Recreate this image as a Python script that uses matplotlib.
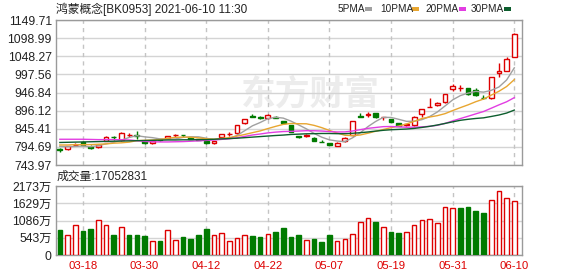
import matplotlib
matplotlib.use('Agg')
import matplotlib.pyplot as plt
import numpy as np
import pandas as pd
from matplotlib.patches import Rectangle

plt.rcParams['font.family'] = ['Liberation Sans', 'Noto Sans CJK SC', 'DejaVu Sans']

# ---------------- data ----------------
title = '鸿蒙概念[BK0953] 2021-06-10 11:30'
dates = ['03-15', '03-16', '03-17', '03-18', '03-19', '03-22', '03-23', '03-24', '03-25', '03-26',
         '03-29', '03-30', '03-31', '04-01', '04-02', '04-06', '04-07', '04-08', '04-09', '04-12',
         '04-13', '04-14', '04-15', '04-16', '04-19', '04-20', '04-21', '04-22', '04-23', '04-26',
         '04-27', '04-28', '04-29', '04-30', '05-06', '05-07', '05-10', '05-11', '05-12', '05-13',
         '05-14', '05-17', '05-18', '05-19', '05-20', '05-21', '05-24', '05-25', '05-26', '05-27',
         '05-28', '05-31', '06-01', '06-02', '06-03', '06-04', '06-07', '06-08', '06-09', '06-10']
opens = [789, 789, 800, 807, 793, 793, 812, 822, 813, 828,
         829, 810, 805, 816, 819, 828, 828, 822, 816, 810,
         805, 822, 830, 834, 862, 880, 877, 875, 877, 867,
         856, 824, 825, 819, 809, 805, 798, 811, 827, 880,
         884, 889, 877, 873, 861, 855, 857, 887, 906, 911,
         920, 957, 959, 959, 954, 932, 931, 1001, 1008, 1047]
highs = [791, 797, 805, 810, 800, 803, 825, 826, 836, 833,
         840, 812, 812, 818, 826, 829.5, 828.5, 823, 818, 811,
         812, 831, 835, 857, 874, 886, 880, 888, 882, 868,
         857, 825, 831, 821, 814, 806, 807, 821, 867, 890,
         891, 890, 879, 874, 862, 859, 880, 901, 931, 920,
         943, 970, 968, 960, 960, 940, 991, 1029, 1046, 1112]
lows = [780, 787, 797, 799, 790, 791, 810, 815, 811, 823,
        818, 803, 803, 812, 818, 823, 822, 816, 813, 803,
        803, 821, 826, 832, 858, 878, 872, 873, 875, 858,
        836, 820, 823, 811, 807, 799, 796, 809, 825, 878,
        879, 876, 871, 863, 852, 854, 852, 877, 905, 910,
        918, 951, 951, 940, 938, 929, 929, 989, 1006, 1045]
closes = [785, 796, 801, 801, 792, 801, 821, 821, 833, 829,
          826, 805, 810, 815, 825, 829, 827, 818, 815, 805,
          811, 830, 831, 856, 872, 879, 876, 884, 876, 861,
          837, 823, 829, 812, 808, 800, 806, 820, 866, 879,
          886, 878, 878, 864, 853, 858, 879, 900, 907, 917,
          942, 965, 960, 942, 941, 931, 990, 1007, 1040, 1111]
# volume in 万 (10k)
volumes = [787, 630, 945, 756, 819, 1092, 945, 630, 871, 630,
           630, 598, 441, 441, 777, 472, 567, 504, 630, 819,
           630, 682, 441, 525, 630, 598, 567, 661, 724, 850,
           567, 630, 472, 504, 410, 630, 441, 493, 661, 1040,
           1155, 1040, 871, 724, 693, 724, 945, 1092, 1124, 1008,
           1512, 1480, 1480, 1512, 1386, 1323, 1732, 2016, 1795, 1705]
# 1 = red (up) volume bar, 0 = green
vol_up = [0, 1, 1, 0, 0, 1, 1, 0, 1, 0,
          0, 0, 1, 0, 1, 1, 0, 0, 0, 0,
          1, 1, 1, 1, 1, 0, 0, 1, 0, 0,
          0, 0, 1, 0, 0, 0, 1, 1, 1, 1,
          1, 0, 1, 0, 0, 1, 1, 1, 1, 1,
          1, 1, 0, 0, 0, 0, 1, 1, 1, 1]
# moving-average values for bars before a full window exists
ma5_head = [796, 795, 796, 797]
ma10_head = [800, 800, 801, 801, 801, 802, 803, 805, 806]
ma20_head = [816, 816, 816, 816, 815.5, 815, 815, 815, 814.5, 814,
             812, 810, 809, 808.5, 808.5, 809, 809.5, 810.5, 811.5]
ma30_head = [807, 807.5, 808, 808.5, 809, 809.5, 810, 810.5, 811, 811.5,
             812, 812.5, 813, 813.5, 814, 814, 814.5, 814.5, 815, 815,
             816, 817, 818, 819, 820.5, 822, 823.5, 825, 826.5]
ma_names = ['5PMA', '10PMA', '20PMA', '30PMA']
price_ticks = [743.97, 794.69, 845.41, 896.12, 946.84, 997.56, 1048.27, 1098.99, 1149.71]
vol_ticks = [0, 543.25, 1086.5, 1629.75, 2173]
xtick_dates = ['03-18', '03-30', '04-12', '04-22', '05-07', '05-19', '05-31', '06-10']
latest_volume = 17052831

# ---------------- style ----------------
W, H = 578, 276
RED = '#dd0000'
GREEN = '#007a00'
MA_COLORS = ['#a0a0a0', '#e8a630', '#e23de2', '#0d5e2e']
GRID = '#d4d4d4'
SPINE = '#9a9a9a'

fig = plt.figure(figsize=(W / 100, H / 100), dpi=100)
fig.patch.set_facecolor('white')

def px_axes(left, top, right, bottom):
    return fig.add_axes([left / W, 1 - bottom / H, (right - left) / W, (bottom - top) / H])

ax = px_axes(56, 20, 522, 165)
axv = px_axes(56, 186, 522, 255)

x = np.arange(len(dates))
o = np.array(opens, float)
c = np.array(closes, float)
up = c >= o
ccol = np.where(up, RED, GREEN)

# watermark
ax.text(0.545, 0.49, '东方财富', transform=ax.transAxes, ha='center', va='center',
        fontsize=25, fontweight='bold', color='#ececec', family=['Noto Sans CJK SC'], zorder=0)

# candles
ax.vlines(x, lows, highs, colors=ccol, lw=1, zorder=3)
body_bot = np.minimum(o, c)
body_h = np.maximum(np.abs(c - o), 0.4)
ax.bar(x, body_h, bottom=body_bot, width=0.62, color=np.where(up, 'white', GREEN),
       edgecolor=ccol, linewidth=1, zorder=4)

# moving averages
cs = pd.Series(closes, dtype=float)
for n, head, col in zip([5, 10, 20, 30], [ma5_head, ma10_head, ma20_head, ma30_head], MA_COLORS):
    m = cs.rolling(n).mean().to_numpy()
    m[:n - 1] = head
    ax.plot(x, m, color=col, lw=1, zorder=5)

ax.set_xlim(-0.5, 60.0)
ax.set_ylim(price_ticks[0], price_ticks[-1])
ax.set_yticks(price_ticks)
ax.set_yticklabels([f'{v:.2f}' for v in price_ticks])

# volume
vcol = [RED if u else GREEN for u in vol_up]
vfill = ['white' if u else GREEN for u in vol_up]
axv.bar(x, volumes, width=0.6, color=vfill, edgecolor=vcol, linewidth=1, zorder=3)
axv.set_xlim(-0.5, 60.0)
axv.set_ylim(0, vol_ticks[-1])
axv.set_yticks(vol_ticks)
axv.set_yticklabels(['0' if v == 0 else f'{int(v)}万' for v in vol_ticks])

tick_pos = [dates.index(d) for d in xtick_dates]
for a in (ax, axv):
    a.set_xticks(tick_pos)
    a.grid(axis='y', color=GRID, lw=1, zorder=1)
    for p in tick_pos:
        a.axvline(p, color='#c4c4c4', lw=1, ls=(0, (3, 3)), zorder=1)
    for s in a.spines.values():
        s.set_color(SPINE)
        s.set_linewidth(1)
    a.tick_params(length=0, pad=3, labelsize=8.8, colors='#222222')
    a.set_axisbelow(True)
ax.set_xticklabels([])
axv.set_xticklabels(xtick_dates)
axv.tick_params(axis='x', colors=RED, labelsize=8.2, pad=4)

# header texts
fig.text(56 / W, 1 - 9 / H, title, ha='left', va='center', fontsize=8.5, color='#222222')
fig.text(57 / W, 1 - 177 / H, f'成交量:{latest_volume}', ha='left', va='center', fontsize=8.5,
         color='#222222')

leg_text_x = [338, 380, 425, 471]
leg_mark_x = [365, 412, 459, 504]
for name, tx, mx, col in zip(ma_names, leg_text_x, leg_mark_x, MA_COLORS):
    fig.text(tx / W, 1 - 9 / H, name, ha='left', va='center', fontsize=7.2, color='#222222')
    fig.patches.append(Rectangle((mx / W, 1 - 10.5 / H), 7 / W, 3 / H, transform=fig.transFigure,
                                 facecolor=col, edgecolor='none'))

fig.savefig('out.png', dpi=100, facecolor='white')
